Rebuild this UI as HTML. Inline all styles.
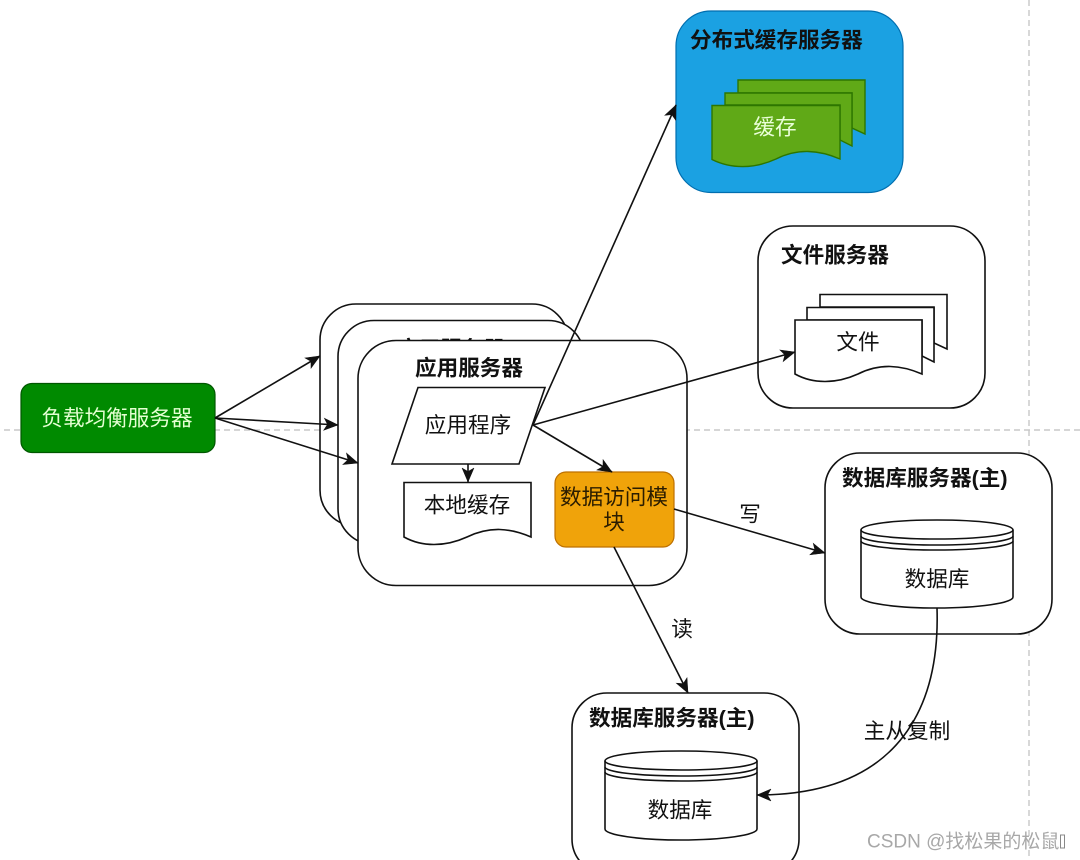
<!DOCTYPE html>
<html><head><meta charset="utf-8"><style>
html,body{margin:0;padding:0;background:#fff;width:1080px;height:860px;overflow:hidden}
svg{display:block;filter:blur(.3px)}
text{font-family:"Liberation Sans","Noto Sans CJK SC",sans-serif;font-size:21.6px;fill:#111;text-anchor:middle;dominant-baseline:central}
.b{font-weight:bold;text-anchor:start}
.s{fill:#fff;stroke:#111;stroke-width:1.6}
.l{fill:none;stroke:#111;stroke-width:1.6}
.a{marker-end:url(#m)}
.g{fill:#60a917;stroke:#2d7600;stroke-width:1.4}
</style></head><body>
<svg width="1080" height="860" viewBox="0 0 1080 860" xmlns="http://www.w3.org/2000/svg">
<defs><marker id="m" markerUnits="userSpaceOnUse" markerWidth="18" markerHeight="16" viewBox="-15 -8 16 16" refX="0" refY="0" orient="auto"><path d="M-14,-6 L0,0 L-14,6 L-10.500,0 Z" fill="#111" stroke="#111" stroke-width=".5"/></marker></defs>

<path d="M1029 0V860M4 430H1080" fill="none" stroke="#c8c8c8" stroke-width="1.4" stroke-dasharray="6 4"/>

<rect x="21" y="383.500" width="194" height="69" rx="11" fill="#008a00" stroke="#005700" stroke-width="1.2"/>
<text x="117" y="418" style="fill:#e4ffd2">负载均衡服务器</text>

<rect class="s" x="320" y="304" width="248" height="222" rx="36"/>
<rect class="s" x="338" y="320.500" width="246" height="224" rx="36"/>
<text class="b" x="397" y="349">应用服务器</text>
<rect class="s" x="358" y="340.500" width="329" height="245" rx="38"/>
<text class="b" x="415" y="368">应用服务器</text>

<path class="s" d="M418 387.500H545L519 464H392Z"/>
<text x="468" y="425">应用程序</text>

<path class="s" d="M404 482.500H531V537C510 528 490 526 467 537C445 547 422 547 404 537Z"/>
<text x="467" y="505">本地缓存</text>

<rect x="555" y="472" width="119" height="75" rx="11" fill="#f0a30a" stroke="#bd7000" stroke-width="1.2"/>
<text x="614" y="497" style="fill:#2a1c00">数据访问模</text>
<text x="614" y="522" style="fill:#2a1c00">块</text>

<!-- cache server -->
<rect x="676" y="11" width="227" height="181.500" rx="35" fill="#1ba1e2" stroke="#006eaf" stroke-width="1.2"/>
<text class="b" x="690" y="40">分布式缓存服务器</text>
<path class="g" d="M738 80H865V134L852 128V93H738Z"/>
<path class="g" d="M725 93H852V146L840 140V105H725Z"/>
<path class="g" d="M712 105.500H840V159C819 150 798 148 776 159C754 169 731 169 712 159.500Z"/>
<text x="775" y="127" style="fill:#eaffd8">缓存</text>

<!-- file server -->
<rect class="s" x="758" y="226" width="227" height="182" rx="35"/>
<text class="b" x="781" y="255">文件服务器</text>
<path class="s" d="M820 294.500H947V349L934 343V307H820Z"/>
<path class="s" d="M807 307.500H934V362L922 356V320H807Z"/>
<path class="s" d="M795 320H922V374C901 365 880 363 858 374C836 384 813 384 795 374Z"/>
<text x="858" y="342">文件</text>

<!-- db main -->
<rect class="s" x="825" y="453" width="227" height="181" rx="35"/>
<text class="b" x="842" y="478">数据库服务器(主)</text>
<path class="s" d="M861 530C861 524 895 520 937 520C979 520 1013 524 1013 530V597C1013 603 979 608 937 608C895 608 861 603 861 597Z"/>
<path class="l" d="M861 530C861 535 895 539 937 539C979 539 1013 535 1013 530M861 536C861 541 895 545 937 545C979 545 1013 541 1013 536M861 541C861 546 895 550 937 550C979 550 1013 546 1013 541"/>
<text x="937" y="579">数据库</text>

<!-- db second -->
<rect class="s" x="572" y="693" width="227" height="181" rx="35"/>
<text class="b" x="589" y="718">数据库服务器(主)</text>
<path class="s" d="M605 761C605 755 639 751 681 751C723 751 757 755 757 761V829C757 835 723 840 681 840C639 840 605 835 605 829Z"/>
<path class="l" d="M605 761C605 766 639 770 681 770C723 770 757 766 757 761M605 767C605 772 639 776 681 776C723 776 757 772 757 767M605 772C605 777 639 781 681 781C723 781 757 777 757 772"/>
<text x="680" y="810">数据库</text>

<!-- connectors -->
<path class="l a" d="M215 418L320 356"/>
<path class="l a" d="M215 418L338 425"/>
<path class="l a" d="M215 418L358 463"/>
<path class="l a" d="M533 425L676 105"/>
<path class="l a" d="M533 425L795 352"/>
<path class="l a" d="M533 425L612 472"/>
<path class="l a" d="M468 464V482"/>
<path class="l a" d="M674 509L825 553"/>
<path class="l a" d="M614 547L688 693"/>
<path class="l a" d="M937 608C940 700 905 795 757 795"/>

<text x="750" y="514">写</text>
<text x="682" y="629">读</text>
<text x="907" y="731">主从复制</text>

<text x="867" y="842" style="text-anchor:start;font-size:19px;fill:#a8a8a8">CSDN @找松果的松鼠</text>
<rect x="1060.500" y="835" width="4" height="13" fill="none" stroke="#888" stroke-width="1"/>
</svg>
</body></html>
